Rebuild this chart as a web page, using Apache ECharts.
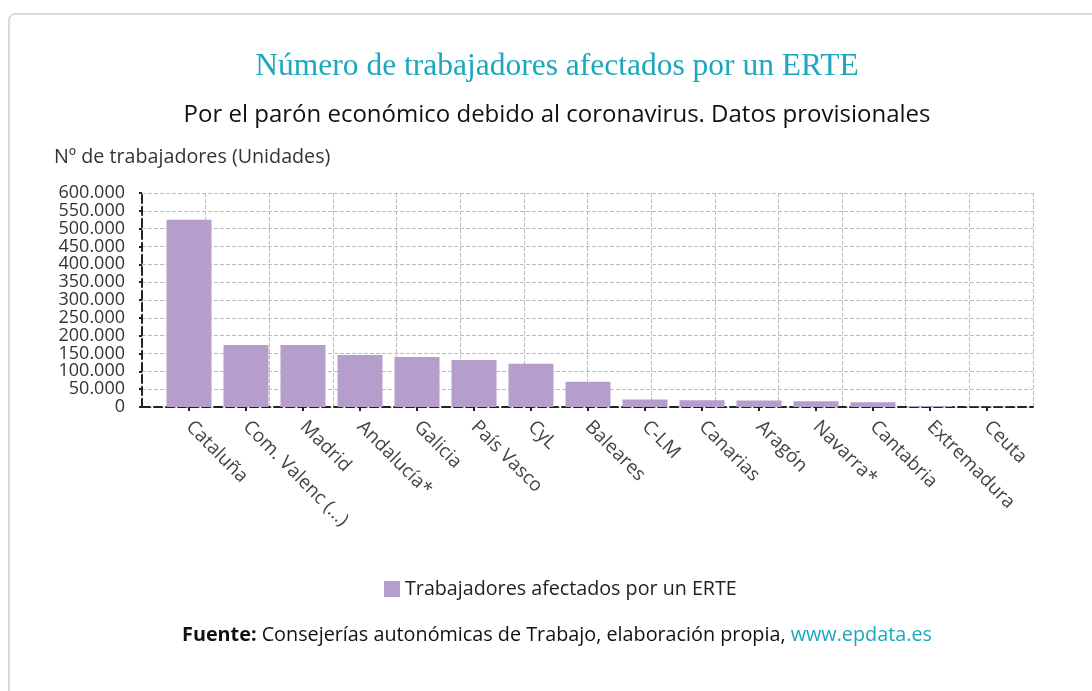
<!DOCTYPE html>
<html>
<head>
<meta charset="utf-8">
<script src="https://cdn.jsdelivr.net/npm/echarts@6/dist/echarts.min.js"></script>
<style>
  html, body { margin: 0; padding: 0; background: #fff; }
  #chart { width: 1092px; height: 691px; }
</style>
</head>
<body>
<div id="chart"></div>
<script>
// datos
var regiones = ['Cataluña', 'Com. Valenc (...)', 'Madrid', 'Andalucía*', 'Galicia', 'País Vasco', 'CyL',
    'Baleares', 'C-LM', 'Canarias', 'Aragón', 'Navarra*', 'Cantabria', 'Extremadura', 'Ceuta'];
var trabajadores = [525000, 174000, 174000, 146000, 140000, 132000, 121000,
    71000, 21000, 19000, 18000, 16000, 13000, 3000, 600];
var yMin = 0, yMax = 600000, yPaso = 50000;

var fuente = '"Open Sans", "Noto Sans", sans-serif';
var centroX = 557;

function miles(v) {
    return String(v).replace(/\B(?=(\d{3})+(?!\d))/g, '.');
}

var chart = echarts.init(document.getElementById('chart'));

var option = {
    backgroundColor: '#fff',
    animation: false,
    legend: {
        top: 574, left: 379,
        itemWidth: 16, itemHeight: 16, itemGap: 8,
        icon: 'rect',
        textStyle: { fontFamily: fuente, fontSize: 19.7, color: '#222' },
        data: ['Trabajadores afectados por un ERTE']
    },
    grid: [
        { left: 142, right: 59, top: 193, bottom: 284 },
        { left: 160.5, right: 76.5, top: 193, bottom: 284 }
    ],
    xAxis: [
        {
            type: 'value', gridIndex: 0, min: 0, max: 14, interval: 1,
            axisLine: { show: true, lineStyle: { color: '#222', width: 2, type: 'dashed' } },
            axisTick: { show: false },
            axisLabel: { show: false },
            splitLine: { show: true, lineStyle: { color: '#bbb', type: 'dashed' } }
        },
        {
            type: 'category', gridIndex: 1, data: regiones,
            axisLine: { show: false },
            axisTick: { show: true, alignWithLabel: true, length: 4, lineStyle: { color: '#222', width: 2 } },
            axisLabel: { rotate: -45, margin: 17, fontFamily: fuente, fontSize: 19, color: '#444', interval: 0 },
            splitLine: { show: false }
        }
    ],
    yAxis: [
        {
            type: 'value', gridIndex: 0, min: yMin, max: yMax, interval: yPaso,
            axisLine: { show: true, lineStyle: { color: '#222', width: 2, type: 'dashed' } },
            axisTick: { show: true, length: 3, lineStyle: { color: '#222', width: 2 } },
            axisLabel: {
                formatter: miles, margin: 17, fontFamily: fuente, fontSize: 18,
                color: '#333', showMinLabel: true, showMaxLabel: true
            },
            splitLine: { show: true, lineStyle: { color: '#bbb', type: 'dashed' } }
        },
        {
            type: 'value', gridIndex: 1, min: yMin, max: yMax, interval: yPaso,
            show: false,
            splitLine: { show: false }
        }
    ],
    series: [
        {
            name: 'Trabajadores afectados por un ERTE',
            type: 'bar',
            xAxisIndex: 1, yAxisIndex: 1,
            data: trabajadores,
            barWidth: 45,
            itemStyle: { color: '#b59dcc' }
        }
    ],
    graphic: [
        {
            type: 'rect', silent: true,
            shape: { x: 9, y: 14, width: 1100, height: 700, r: 6 },
            style: { fill: 'none', stroke: '#d9d9d9', lineWidth: 2 }
        },
        {
            type: 'text', x: centroX, y: 67,
            style: {
                text: 'Número de trabajadores afectados por un ERTE',
                font: '31.5px "Liberation Serif", "DejaVu Serif", serif', fill: '#1ba8bf',
                align: 'center', verticalAlign: 'middle'
            }
        },
        {
            type: 'text', x: centroX, y: 115,
            style: {
                text: 'Por el parón económico debido al coronavirus. Datos provisionales',
                font: '24px ' + fuente, fill: '#111',
                align: 'center', verticalAlign: 'middle'
            }
        },
        {
            type: 'text', left: 54, top: 147,
            style: { text: 'Nº de trabajadores (Unidades)', font: '19.7px ' + fuente, fill: '#333' }
        },
        {
            type: 'text', x: centroX, y: 635,
            style: {
                text: '{b|Fuente:} Consejerías autonómicas de Trabajo, elaboración propia, {l|www.epdata.es}',
                font: '19.8px ' + fuente, fill: '#111',
                align: 'center', verticalAlign: 'middle',
                rich: {
                    b: { fontFamily: fuente, fontSize: 19.8, fontWeight: 'bold', fill: '#111' },
                    l: { fontFamily: fuente, fontSize: 19.8, fill: '#1ba8bf' }
                }
            }
        }
    ]
};

chart.setOption(option);
</script>
</body>
</html>
